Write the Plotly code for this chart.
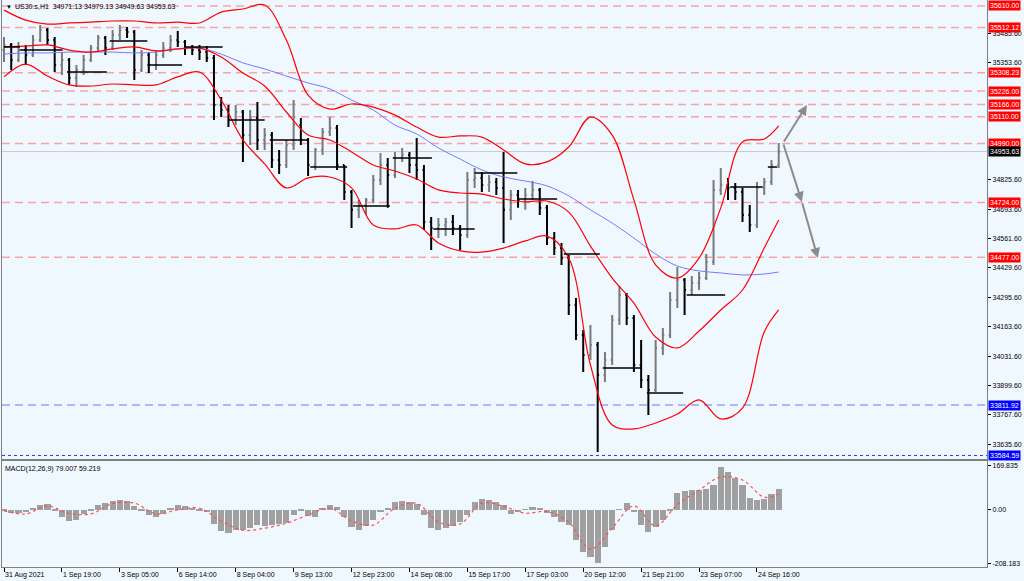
import plotly.graph_objects as go

# ---------------- data (US30.s, H1, sampled every 4 bars) ----------------
bar_index = list(range(108))
bar_open = [35411, 35434, 35366, 35411, 35389, 35456, 35501, 35456, 35344, 35366,
            35285, 35321, 35366, 35420, 35465, 35420, 35479, 35501, 35492, 35321,
            35389, 35344, 35389, 35420, 35456, 35447, 35420, 35411, 35402, 35375,
            35163, 35141, 35096, 35132, 35028, 35105, 35006, 35028, 34916, 34893,
            34983, 35073, 35006, 34893, 34961, 35042, 35060, 34893, 34772, 34691,
            34713, 34736, 34826, 34893, 34848, 34925, 34938, 34893, 34871, 34636,
            34609, 34623, 34636, 34609, 34578, 34826, 34835, 34803, 34817, 34790,
            34691, 34758, 34736, 34758, 34781, 34700, 34564, 34519, 34474, 34262,
            34127, 34037, 34082, 33947, 34015, 34195, 34308, 34204, 33992, 33925,
            33880, 34069, 34127, 34285, 34375, 34330, 34362, 34384, 34456, 34781,
            34803, 34790, 34772, 34668, 34623, 34790, 34817, 34893]
bar_high = [35470, 35443, 35447, 35434, 35479, 35524, 35510, 35470, 35402, 35375,
            35344, 35389, 35434, 35479, 35474, 35501, 35524, 35515, 35501, 35411,
            35402, 35411, 35447, 35479, 35497, 35456, 35434, 35434, 35429, 35389,
            35200, 35163, 35163, 35141, 35141, 35177, 35060, 35042, 34961, 35006,
            35186, 35105, 35015, 34970, 35060, 35109, 35073, 34893, 34781, 34736,
            34745, 34848, 34947, 34925, 34952, 34970, 34952, 35015, 34893, 34659,
            34654, 34654, 34668, 34623, 34862, 34880, 34862, 34848, 34835, 34952,
            34781, 34781, 34790, 34821, 34790, 34713, 34591, 34542, 34488, 34294,
            34150, 34172, 34096, 34051, 34217, 34348, 34317, 34217, 34105, 33947,
            34105, 34159, 34321, 34434, 34384, 34393, 34411, 34492, 34826, 34880,
            34835, 34812, 34790, 34713, 34817, 34835, 34916, 34992]
bar_low = [35357, 35321, 35357, 35344, 35380, 35447, 35434, 35312, 35299, 35254,
           35245, 35299, 35357, 35402, 35389, 35411, 35456, 35465, 35276, 35312,
           35308, 35321, 35375, 35402, 35425, 35389, 35389, 35366, 35357, 35096,
           35109, 35064, 35073, 34907, 34983, 34961, 34961, 34880, 34853, 34880,
           34961, 34983, 34844, 34871, 34938, 35024, 34871, 34736, 34609, 34654,
           34668, 34722, 34803, 34700, 34835, 34907, 34857, 34826, 34600, 34510,
           34564, 34573, 34578, 34510, 34564, 34790, 34772, 34772, 34758, 34542,
           34645, 34700, 34691, 34736, 34668, 34533, 34488, 34443, 34217, 34105,
           33961, 34015, 33600, 33916, 33992, 34172, 34172, 33961, 33889, 33767,
           33871, 34037, 34114, 34249, 34217, 34308, 34330, 34375, 34443, 34758,
           34736, 34736, 34636, 34591, 34609, 34758, 34803, 34880]
bar_close = [35434, 35366, 35411, 35389, 35456, 35501, 35456, 35344, 35366, 35285,
             35321, 35366, 35420, 35465, 35420, 35479, 35501, 35492, 35321, 35389,
             35344, 35389, 35420, 35456, 35447, 35420, 35411, 35402, 35375, 35163,
             35141, 35096, 35132, 35028, 35105, 35006, 35028, 34916, 34893, 34983,
             35073, 35006, 34893, 34961, 35042, 35060, 34893, 34772, 34691, 34713,
             34736, 34826, 34893, 34848, 34925, 34938, 34893, 34871, 34636, 34609,
             34623, 34636, 34609, 34578, 34826, 34835, 34803, 34817, 34790, 34691,
             34758, 34736, 34758, 34781, 34700, 34564, 34519, 34474, 34262, 34127,
             34037, 34082, 33947, 34015, 34195, 34308, 34204, 33992, 33925, 33880,
             34069, 34127, 34285, 34375, 34330, 34362, 34384, 34456, 34781, 34803,
             34790, 34772, 34668, 34623, 34790, 34817, 34893, 34953.63]

# indicator samples (every 3rd sampled bar)
ind_index = [0, 3, 6, 9, 12, 15, 18, 21, 24, 27, 30, 33, 36, 39, 42, 45, 48, 51, 54,
             57, 60, 63, 66, 69, 72, 75, 78, 81, 84, 87, 90, 93, 96, 99, 102, 105, 107]
bb_upper = [35591, 35546, 35528, 35533, 35537, 35542, 35542, 35533, 35537, 35533,
            35582, 35596, 35614, 35456, 35208, 35145, 35168, 35154, 35118, 35064,
            35019, 35024, 35019, 34961, 34898, 34907, 34974, 35109, 35028, 34736,
            34443, 34384, 34474, 34700, 34997, 35010, 35069]
bb_middle = [35425, 35429, 35434, 35411, 35402, 35416, 35425, 35407, 35416, 35420,
             35380, 35308, 35249, 35132, 35028, 35006, 34952, 34893, 34866, 34830,
             34781, 34767, 34762, 34740, 34727, 34731, 34681, 34528, 34384, 34271,
             34118, 34069, 34145, 34240, 34330, 34519, 34645]
bb_lower = [35290, 35348, 35294, 35254, 35249, 35258, 35254, 35254, 35290, 35312,
            35186, 35006, 34898, 34790, 34835, 34839, 34790, 34623, 34605, 34623,
            34542, 34506, 34501, 34519, 34551, 34573, 34474, 33992, 33722, 33704,
            33731, 33771, 33835, 33749, 33798, 34141, 34240]
ma_slow = [35393, 35398, 35398, 35402, 35402, 35402, 35398, 35402, 35416, 35420,
           35393, 35353, 35326, 35294, 35263, 35236, 35186, 35141, 35073, 35033,
           34970, 34920, 34871, 34839, 34821, 34799, 34754, 34691, 34632, 34564,
           34492, 34438, 34416, 34407, 34398, 34402, 34411]

macd_hist = [-5, -14, -14, -10, 5, 17, 21, -2, -29, -44,
             -41, -17, -2, 17, 25, 33, 37, 33, 14, -5,
             -21, -29, -17, 5, 17, 14, 5, -2, -10, -56,
             -83, -91, -80, -80, -72, -60, -63, -60, -56, -53,
             -21, -2, -25, -29, 5, 17, 10, -29, -68, -80,
             -63, -41, -10, 5, 29, 33, 29, 21, -21, -72,
             -80, -72, -63, -48, -21, 29, 41, 37, 29, 17,
             -17, -10, 2, 10, 5, -14, -29, -48, -60, -118,
             -164, -184, -205, -145, -80, 2, 25, -10, -60, -87,
             -68, -41, -2, 63, 72, 75, 75, 80, 95, 166,
             145, 121, 95, 44, 37, 41, 60, 79.007]
macd_signal = [-5, -17, 14, -15, -17, 23, 25, -17, -1, 5,
               -44, -80, -72, -53, -21, 5, -44, -60, 5, 24,
               -48, -56, 25, 12, -14, -8, -49, -153, -72, 14,
               -63, 19, 75, 126, 114, 48, 59.219]

# daily level segments (start bar, end bar, price)
seg_start = [0, 2.2, 8.7, 14.6, 19.8, 25, 31.2, 36.7, 42.3, 48.2, 53.7, 59.3, 65, 71,
             77.3, 82.7, 88.8, 94.3, 100.3, 105.5]
seg_end = [2.2, 8.1, 14.2, 19.8, 24.6, 30.2, 36, 41.9, 47.4, 53.3, 59.1, 65, 70.9, 76.4,
           82.3, 88.1, 93.8, 99.6, 104.8, 106.8]
seg_level = [35425, 35411, 35312, 35452, 35344, 35425, 35096, 35006, 34884, 34708, 34925,
             34605, 34857, 34740, 34492, 33979, 33866, 34308, 34794, 34884]

red_levels = [35610.00, 35512.12, 35308.23, 35226.00, 35166.00, 35110.00, 34990.00,
              34724.00, 34477.00]
blue_dash_level = 33811.92
blue_dot_level = 33584.59
last_price = 34953.63

# projection arrows (bar, price)
proj_up_x = [107.6, 110.9]
proj_up_y = [34992, 35163]
proj_dn_x = [107.6, 110.2, 112.4]
proj_dn_y = [34992, 34727, 34474]

price_ticks = [35485.6, 35353.6, 34825.6, 34693.6, 34561.6, 34429.6,
               34295.6, 34163.6, 34031.6, 33899.6, 33767.6, 33635.6]
macd_ticks = [169.835, 0.0, -208.183]
macd_tick_text = ["169.835", "0.00", "-208.183"]
time_tick_index = [0, 8, 16, 24, 32, 40, 48, 56, 64, 72, 80, 88, 96, 104]
time_tick_text = ["31 Aug 2021", "1 Sep 19:00", "3 Sep 05:00", "6 Sep 14:00",
                  "8 Sep 04:00", "9 Sep 13:00", "12 Sep 23:00", "14 Sep 08:00",
                  "15 Sep 17:00", "17 Sep 03:00", "20 Sep 12:00", "21 Sep 21:00",
                  "23 Sep 07:00", "24 Sep 16:00"]
title_text = "US30.s,H1  34971.13 34979.13 34949.63 34953.63"

# ---------------- figure ----------------
FONT = "Liberation Sans"
BG = "#F0F8FF"
fig = go.Figure()

# horizontal levels
for lv in red_levels:
    fig.add_shape(type="line", xref="paper", x0=0, x1=1, yref="y", y0=lv, y1=lv,
                  line=dict(color="rgba(255,60,60,0.45)", width=1.5, dash="8px,5px"),
                  layer="below")
fig.add_shape(type="line", xref="paper", x0=0, x1=1, yref="y", y0=blue_dash_level,
              y1=blue_dash_level, line=dict(color="rgba(60,60,255,0.7)", width=1.2,
                                            dash="8px,5px"), layer="below")
fig.add_shape(type="line", xref="paper", x0=0, x1=1, yref="y", y0=blue_dot_level,
              y1=blue_dot_level, line=dict(color="#3030ff", width=1, dash="dot"),
              layer="below")
fig.add_shape(type="line", xref="paper", x0=0, x1=1, yref="y", y0=last_price,
              y1=last_price, line=dict(color="#c8c8c8", width=1), layer="below")

# indicators
fig.add_trace(go.Scatter(x=ind_index, y=ma_slow, mode="lines", line_shape="spline",
                         line=dict(color="#7878ff", width=1), xaxis="x", yaxis="y"))
for band in (bb_upper, bb_middle, bb_lower):
    fig.add_trace(go.Scatter(x=ind_index, y=band, mode="lines", line_shape="spline",
                             line=dict(color="#ff0000", width=1.2), xaxis="x", yaxis="y"))

# price bars
fig.add_trace(go.Ohlc(x=bar_index, open=bar_open, high=bar_high, low=bar_low,
                      close=bar_close, tickwidth=0.2,
                      increasing=dict(line=dict(color="#7a7a7a", width=2)),
                      decreasing=dict(line=dict(color="#000000", width=2)),
                      xaxis="x", yaxis="y"))

# level segments
sx, sy = [], []
for a, b, lv in zip(seg_start, seg_end, seg_level):
    sx += [a, b, None]
    sy += [lv, lv, None]
fig.add_trace(go.Scatter(x=sx, y=sy, mode="lines", line=dict(color="#000000", width=1.5),
                         xaxis="x", yaxis="y"))

# MACD
fig.add_trace(go.Bar(x=bar_index, y=macd_hist, marker_color="#a0a0a0",
                     marker_line_width=0, width=0.85, xaxis="x2", yaxis="y2"))
fig.add_trace(go.Scatter(x=ind_index, y=macd_signal, mode="lines", line_shape="spline",
                         line=dict(color="#ff5050", width=1.2, dash="dot"),
                         xaxis="x2", yaxis="y2"))

ann = []
# projection arrows
ann.append(dict(x=proj_up_x[1], y=proj_up_y[1], ax=proj_up_x[0], ay=proj_up_y[0],
                xref="x", yref="y", axref="x", ayref="y", text="", showarrow=True,
                arrowhead=2, arrowsize=1, arrowwidth=2, arrowcolor="#8c8c8c"))
for k in range(len(proj_dn_x) - 1):
    ann.append(dict(x=proj_dn_x[k + 1], y=proj_dn_y[k + 1], ax=proj_dn_x[k],
                    ay=proj_dn_y[k], xref="x", yref="y", axref="x", ayref="y", text="",
                    showarrow=True, arrowhead=2, arrowsize=1, arrowwidth=2,
                    arrowcolor="#8c8c8c"))

# price labels on the right
def box(val, bg):
    return dict(x=1, xref="paper", xanchor="left", xshift=1, y=val, yref="y",
                yanchor="middle", text=f"{val:.2f}", showarrow=False, bgcolor=bg,
                borderpad=1, font=dict(family=FONT, size=7, color="#ffffff"))

for lv in red_levels:
    ann.append(box(lv, "#ff0000"))
ann.append(box(last_price, "#000000"))
ann.append(box(blue_dash_level, "#0000ff"))
ann.append(box(blue_dot_level, "#0000ff"))

ann.append(dict(x=0.002, xref="paper", xanchor="left", y=1, yref="paper", yanchor="top",
                yshift=-2, text="▼", showarrow=False,
                font=dict(family=FONT, size=6, color="#000000")))
ann.append(dict(x=0.011, xref="paper", xanchor="left", y=1, yref="paper", yanchor="top",
                yshift=-1, text=title_text, showarrow=False,
                font=dict(family=FONT, size=7, color="#000000")))
ann.append(dict(x=0.001, xref="paper", xanchor="left", y=1, yref="y2 domain",
                yanchor="top", yshift=-2,
                text=f"MACD(12,26,9) {macd_hist[-1]:.3f} {macd_signal[-1]:.3f}",
                showarrow=False, font=dict(family=FONT, size=7, color="#000000")))

x_range = [-0.276, 135.77]
axis_line = dict(showline=True, linecolor="#808080", linewidth=1.2, mirror=True,
                 showgrid=False, zeroline=False)

fig.update_layout(
    width=1024, height=581,
    margin=dict(l=2, r=37, t=0, b=14),
    paper_bgcolor=BG, plot_bgcolor=BG,
    showlegend=False, bargap=0,
    font=dict(family=FONT, size=7, color="#000000"),
    annotations=ann,
    xaxis=dict(domain=[0, 1], anchor="y", range=x_range, showticklabels=False,
               ticks="", rangeslider=dict(visible=False), **axis_line),
    yaxis=dict(domain=[0.1905, 1], anchor="x", side="right",
               range=[33568.7, 35636.5], tickvals=price_ticks,
               ticktext=[f"{v:.2f}" for v in price_ticks], ticks="outside", ticklen=3,
               tickcolor="#000000", tickfont=dict(family=FONT, size=7), **axis_line),
    xaxis2=dict(domain=[0, 1], anchor="y2", matches="x", range=x_range,
                tickvals=time_tick_index, ticktext=time_tick_text, ticks="outside",
                ticklen=4, tickcolor="#000000", ticklabelposition="outside right",
                tickfont=dict(family=FONT, size=7), **axis_line),
    yaxis2=dict(domain=[0, 0.187], anchor="x2", side="right", range=[-222.2, 187.8],
                tickvals=macd_ticks, ticktext=macd_tick_text, ticks="outside",
                ticklen=3, tickcolor="#000000", tickfont=dict(family=FONT, size=7),
                **axis_line),
)

fig.write_html("out.html", config={"displayModeBar": False},
               post_script="document.body.style.margin='0px';")
